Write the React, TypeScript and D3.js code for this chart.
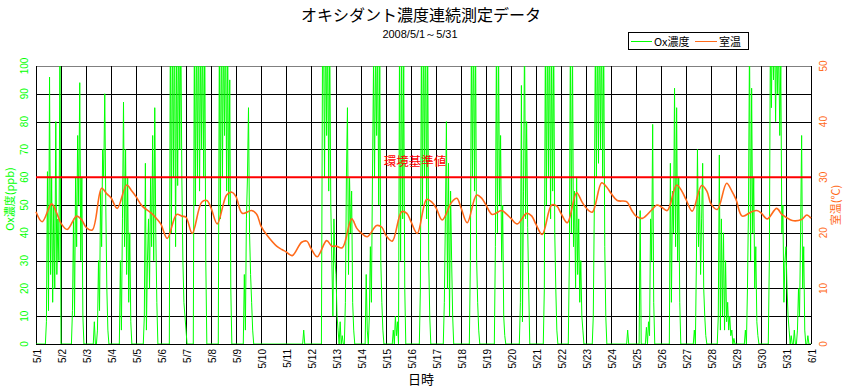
import React from 'react';
import * as d3 from 'd3';

// Ox concentration (ppb), hourly 0h..23h for each day 5/1 .. 5/31 (values above 100 run off the top)
const oxByDay: number[][] = [
  [0, 0, 0, 0, 0, 0, 0, 0, 0, 0, 8, 62, 12, 96, 25, 60, 15, 50, 20, 80, 25, 45, 30, 110],
  [0, 0, 0, 0, 0, 0, 0, 0, 0, 0, 0, 12, 45, 10, 60, 35, 75, 50, 94, 30, 60, 10, 0, 0],
  [0, 0, 0, 0, 0, 0, 0, 0, 8, 0, 0, 5, 30, 12, 55, 35, 70, 60, 90, 50, 20, 5, 0, 0],
  [0, 0, 0, 0, 0, 0, 0, 0, 0, 30, 5, 45, 87, 35, 70, 25, 60, 15, 40, 8, 0, 0, 0, 0],
  [0, 0, 0, 0, 0, 0, 0, 0, 10, 65, 5, 30, 45, 20, 60, 35, 75, 30, 85, 40, 15, 0, 0, 0],
  [0, 0, 0, 0, 0, 0, 0, 0, 0, 120, 40, 115, 60, 120, 35, 110, 57, 120, 70, 115, 60, 30, 15, 10],
  [5, 0, 0, 0, 0, 0, 0, 0, 110, 50, 115, 60, 120, 55, 110, 70, 115, 60, 110, 30, 0, 0, 0, 0],
  [0, 0, 0, 0, 0, 0, 0, 0, 110, 45, 120, 60, 115, 75, 120, 55, 110, 50, 95, 20, 0, 0, 0, 0],
  [0, 0, 0, 0, 0, 0, 0, 0, 25, 5, 45, 60, 85, 40, 25, 15, 5, 0, 0, 0, 0, 0, 0, 0],
  [0, 0, 0, 0, 0, 0, 0, 0, 0, 0, 0, 0, 0, 0, 0, 0, 0, 0, 0, 0, 0, 0, 0, 0],
  [0, 0, 0, 0, 0, 0, 0, 0, 0, 0, 0, 0, 0, 0, 0, 0, 0, 5, 0, 0, 0, 0, 0, 0],
  [0, 0, 0, 0, 0, 0, 0, 0, 0, 0, 0, 100, 115, 60, 120, 75, 115, 55, 110, 50, 30, 10, 45, 30],
  [25, 10, 5, 0, 8, 0, 3, 0, 0, 15, 60, 85, 25, 60, 40, 55, 15, 5, 0, 0, 0, 0, 0, 0],
  [0, 0, 0, 0, 0, 25, 5, 0, 10, 35, 15, 60, 100, 60, 110, 75, 110, 50, 100, 30, 15, 5, 0, 0],
  [0, 0, 0, 0, 0, 0, 0, 5, 0, 10, 3, 8, 0, 110, 30, 115, 45, 100, 20, 0, 0, 0, 0, 0],
  [0, 0, 0, 0, 0, 0, 0, 0, 0, 20, 110, 50, 115, 60, 120, 45, 110, 30, 10, 0, 0, 0, 0, 0],
  [0, 0, 0, 0, 0, 0, 0, 0, 15, 45, 80, 20, 65, 10, 55, 30, 10, 0, 0, 0, 0, 0, 0, 0],
  [0, 0, 0, 0, 0, 0, 0, 0, 0, 30, 110, 60, 115, 55, 110, 30, 15, 5, 0, 0, 0, 0, 0, 0],
  [0, 0, 0, 0, 0, 0, 0, 0, 0, 35, 110, 40, 110, 50, 75, 30, 50, 10, 3, 0, 0, 0, 0, 0],
  [0, 0, 0, 0, 0, 0, 0, 0, 0, 15, 93, 8, 55, 110, 45, 80, 42, 20, 0, 0, 0, 0, 0, 0],
  [0, 0, 0, 0, 0, 0, 0, 0, 20, 110, 50, 115, 60, 120, 45, 110, 55, 110, 40, 20, 5, 0, 0, 0],
  [0, 0, 0, 0, 0, 0, 0, 0, 30, 110, 40, 110, 35, 55, 20, 60, 25, 45, 15, 30, 10, 5, 0, 0],
  [0, 0, 0, 0, 0, 0, 0, 10, 50, 110, 60, 115, 65, 120, 70, 115, 60, 110, 35, 10, 0, 0, 0, 0],
  [0, 0, 0, 0, 0, 0, 0, 0, 0, 0, 0, 0, 0, 0, 0, 0, 5, 0, 0, 0, 0, 0, 0, 0],
  [0, 0, 0, 0, 48, 0, 0, 0, 0, 0, 6, 0, 8, 3, 45, 30, 79, 15, 0, 0, 0, 0, 0, 0],
  [0, 0, 0, 0, 0, 0, 0, 0, 0, 65, 15, 55, 40, 92, 35, 85, 30, 60, 15, 0, 0, 0, 0, 0],
  [0, 0, 0, 0, 0, 0, 0, 0, 5, 0, 30, 70, 35, 55, 25, 45, 65, 20, 10, 3, 0, 0, 0, 0],
  [0, 0, 0, 0, 0, 0, 0, 10, 68, 5, 45, 10, 40, 5, 30, 8, 15, 5, 10, 3, 5, 0, 2, 0],
  [0, 0, 0, 0, 0, 0, 0, 0, 0, 5, 0, 20, 50, 110, 30, 92, 40, 60, 20, 35, 8, 3, 0, 0],
  [0, 0, 0, 0, 0, 0, 0, 0, 30, 110, 85, 120, 95, 120, 80, 110, 90, 110, 75, 100, 40, 50, 15, 30],
  [35, 20, 10, 5, 0, 3, 0, 0, 5, 0, 0, 5, 20, 10, 40, 75, 20, 35, 5, 0, 0, 3, 0, 0],
];
const oxEnd = 0;

// room temperature (°C) read at these hours of each day
const tempHours = [0, 6, 15, 20];
const tempByDay: number[][] = [
  [23.8, 22.0, 25.2, 23.5],
  [21.7, 20.6, 23.0, 22.3],
  [21.0, 20.5, 28.0, 27.0],
  [26.3, 24.4, 28.6, 27.5],
  [26.5, 24.8, 23.5, 22.5],
  [21.5, 19.0, 23.3, 23.0],
  [22.8, 19.9, 25.5, 25.8],
  [24.5, 21.6, 26.8, 27.3],
  [26.5, 23.5, 24.0, 23.3],
  [21.2, 19.5, 17.6, 17.0],
  [16.6, 15.9, 18.3, 18.5],
  [17.2, 15.7, 18.6, 17.6],
  [17.6, 17.3, 22.5, 20.8],
  [20.0, 19.3, 21.3, 21.0],
  [19.5, 18.5, 23.8, 23.5],
  [22.0, 19.9, 26.0, 25.5],
  [24.5, 22.3, 25.5, 26.2],
  [24.5, 21.8, 26.8, 26.2],
  [25.0, 23.3, 24.0, 23.3],
  [22.6, 21.6, 23.5, 23.0],
  [21.5, 19.7, 25.0, 24.8],
  [23.5, 21.8, 27.2, 25.6],
  [24.5, 23.7, 29.0, 28.2],
  [27.1, 25.8, 25.6, 24.0],
  [23.0, 22.6, 24.1, 25.0],
  [24.7, 24.0, 28.6, 27.5],
  [26.0, 23.9, 28.5, 27.5],
  [25.2, 24.2, 28.9, 27.5],
  [26.0, 23.0, 23.8, 24.0],
  [23.6, 22.5, 24.4, 23.3],
  [22.8, 22.2, 22.4, 23.2],
];
const tempEnd = 22.6;

const dayLabels = [
  '5/1', '5/2', '5/3', '5/4', '5/5', '5/6', '5/7', '5/8', '5/9', '5/10', '5/11',
  '5/12', '5/13', '5/14', '5/15', '5/16', '5/17', '5/18', '5/19', '5/20', '5/21',
  '5/22', '5/23', '5/24', '5/25', '5/26', '5/27', '5/28', '5/29', '5/30', '5/31', '6/1',
];
const oxTicks = [0, 10, 20, 30, 40, 50, 60, 70, 80, 90, 100];
const tempTicks = [0, 10, 20, 30, 40, 50];
const standardLevel = 60;

const GREEN = '#00ff00';
const ORANGE = '#ff6a1a';
const JP = '"Noto Sans CJK JP", "Liberation Sans", sans-serif';
const LAT = '"Liberation Sans", sans-serif';

export default function App() {
  const width = 844;
  const height = 388;
  const left = 36, right = 811, top = 66, bottom = 344;

  const x = d3.scaleLinear().domain([0, dayLabels.length - 1]).range([left, right]);
  const yOx = d3.scaleLinear().domain([0, 100]).range([bottom, top]);
  const yTemp = d3.scaleLinear().domain([0, 50]).range([bottom, top]);

  const oxPoints: [number, number][] = oxByDay
    .flatMap((row, d) => row.map((v, h) => [d + h / 24, v] as [number, number]))
    .concat([[oxByDay.length, oxEnd]]);
  const tempPoints: [number, number][] = tempByDay
    .flatMap((row, d) => row.map((v, i) => [d + tempHours[i] / 24, v] as [number, number]))
    .concat([[tempByDay.length, tempEnd]]);

  const oxLine = d3.line<[number, number]>().x(d => x(d[0])).y(d => yOx(d[1]));
  const tempLine = d3
    .line<[number, number]>()
    .x(d => x(d[0]))
    .y(d => yTemp(d[1]))
    .curve(d3.curveCatmullRom.alpha(0.5));

  const snap = (v: number) => Math.round(v) + 0.5;

  return (
    <div style={{ position: 'absolute', left: 0, top: 0 }}>
      <svg width={width} height={height} style={{ display: 'block', background: '#fff' }}>
        <defs>
          <clipPath id="plotClip">
            <rect x={left} y={top} width={right - left} height={bottom - top} />
          </clipPath>
        </defs>

        {/* title */}
        <text x={421} y={21} textAnchor="middle" fontFamily={JP} fontSize={16} fill="#000">
          オキシダント濃度連続測定データ
        </text>
        <text x={420} y={38} textAnchor="middle" fontFamily={LAT} fontSize={11} fill="#000">
          2008/5/1～5/31
        </text>

        {/* legend */}
        <g fontFamily={JP} fontSize={11}>
          <rect x={628.5} y={32.5} width={120} height={17} fill="#fff" stroke="#000" />
          <line x1={631} x2={652} y1={41.5} y2={41.5} stroke={GREEN} />
          <text x={654} y={45.5} fill="#000">Ox濃度</text>
          <line x1={695} x2={717} y1={41.5} y2={41.5} stroke={ORANGE} />
          <text x={719} y={45.5} fill="#000">室温</text>
        </g>

        {/* grid */}
        <g shapeRendering="crispEdges">
          {oxTicks.map(t => (
            <line
              key={`h${t}`}
              x1={left}
              x2={right}
              y1={snap(yOx(t))}
              y2={snap(yOx(t))}
              stroke={t === 100 ? '#808080' : '#000'}
            />
          ))}
          {dayLabels.map((_, i) => (
            <line key={`v${i}`} x1={snap(x(i))} x2={snap(x(i))} y1={top} y2={bottom} stroke="#000" />
          ))}
        </g>

        {/* Ox concentration */}
        <path
          d={oxLine(oxPoints) || ''}
          fill="none"
          stroke={GREEN}
          strokeWidth={1}
          clipPath="url(#plotClip)"
        />

        {/* room temperature */}
        <path d={tempLine(tempPoints) || ''} fill="none" stroke={ORANGE} strokeWidth={1.6} />

        {/* environmental standard */}
        <line
          x1={left}
          x2={right}
          y1={yOx(standardLevel)}
          y2={yOx(standardLevel)}
          stroke="#ff0000"
          strokeWidth={2}
        />
        <text x={415} y={166} textAnchor="middle" fontFamily={JP} fontSize={12.5} fill="#ff0000">
          環境基準値
        </text>

        {/* left axis labels */}
        <g fontFamily={LAT} fontSize={10} fill={GREEN}>
          {oxTicks.map(t => (
            <text
              key={`l${t}`}
              transform={`translate(24,${yOx(t)}) rotate(-90)`}
              textAnchor="middle"
              dominantBaseline="central"
            >
              {t}
            </text>
          ))}
        </g>
        <text
          transform="translate(9,199) rotate(-90)"
          textAnchor="middle"
          dominantBaseline="central"
          fontFamily={JP}
          fontSize={11}
          fill={GREEN}
        >
          Ox濃度(ppb)
        </text>

        {/* right axis labels */}
        <g fontFamily={LAT} fontSize={10} fill={ORANGE}>
          {tempTicks.map(t => (
            <text
              key={`r${t}`}
              transform={`translate(823,${yTemp(t)}) rotate(-90)`}
              textAnchor="middle"
              dominantBaseline="central"
            >
              {t}
            </text>
          ))}
        </g>
        <text
          transform="translate(835,205) rotate(-90)"
          textAnchor="middle"
          dominantBaseline="central"
          fontFamily={JP}
          fontSize={11}
          fill={ORANGE}
        >
          室温(℃)
        </text>

        {/* x axis labels */}
        <g fontFamily={LAT} fontSize={10} fill="#000">
          {dayLabels.map((label, i) => (
            <text
              key={`x${i}`}
              transform={`translate(${x(i) + 1.5},349) rotate(-90)`}
              textAnchor="end"
              dominantBaseline="central"
            >
              {label}
            </text>
          ))}
        </g>
        <text x={421} y={384} textAnchor="middle" fontFamily={JP} fontSize={13} fill="#000">
          日時
        </text>
      </svg>
    </div>
  );
}
